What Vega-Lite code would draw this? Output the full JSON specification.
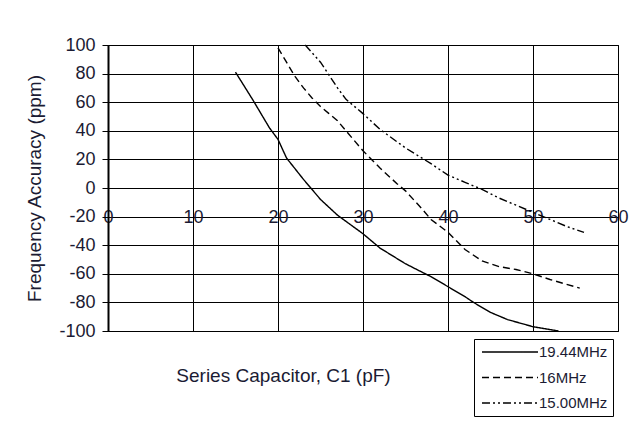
{
  "$schema": "https://vega.github.io/schema/vega-lite/v6.json",
  "width": 510,
  "height": 286,
  "autosize": {"type": "none"},
  "padding": {"left": 108, "top": 45, "right": 21, "bottom": 91},
  "background": "white",
  "config": {
    "font": "Liberation Sans",
    "view": {"stroke": "black", "strokeWidth": 1}
  },
  "data": {
    "values": [
      {"series": "19.44MHz", "c1": 15, "ppm": 81},
      {"series": "19.44MHz", "c1": 17, "ppm": 62},
      {"series": "19.44MHz", "c1": 19, "ppm": 42},
      {"series": "19.44MHz", "c1": 20, "ppm": 34},
      {"series": "19.44MHz", "c1": 21, "ppm": 21},
      {"series": "19.44MHz", "c1": 23, "ppm": 6},
      {"series": "19.44MHz", "c1": 25, "ppm": -8},
      {"series": "19.44MHz", "c1": 27, "ppm": -19},
      {"series": "19.44MHz", "c1": 30, "ppm": -32},
      {"series": "19.44MHz", "c1": 32, "ppm": -42},
      {"series": "19.44MHz", "c1": 35, "ppm": -53},
      {"series": "19.44MHz", "c1": 38, "ppm": -62},
      {"series": "19.44MHz", "c1": 40, "ppm": -69},
      {"series": "19.44MHz", "c1": 42, "ppm": -76},
      {"series": "19.44MHz", "c1": 43, "ppm": -80},
      {"series": "19.44MHz", "c1": 45, "ppm": -87},
      {"series": "19.44MHz", "c1": 47, "ppm": -92},
      {"series": "19.44MHz", "c1": 50, "ppm": -97},
      {"series": "19.44MHz", "c1": 53, "ppm": -100},
      {"series": "16MHz", "c1": 20, "ppm": 98},
      {"series": "16MHz", "c1": 21, "ppm": 88},
      {"series": "16MHz", "c1": 22, "ppm": 78},
      {"series": "16MHz", "c1": 23, "ppm": 70},
      {"series": "16MHz", "c1": 24, "ppm": 63},
      {"series": "16MHz", "c1": 25, "ppm": 57},
      {"series": "16MHz", "c1": 26, "ppm": 52},
      {"series": "16MHz", "c1": 27, "ppm": 47},
      {"series": "16MHz", "c1": 28, "ppm": 40},
      {"series": "16MHz", "c1": 30, "ppm": 26},
      {"series": "16MHz", "c1": 32, "ppm": 14},
      {"series": "16MHz", "c1": 34, "ppm": 3},
      {"series": "16MHz", "c1": 35, "ppm": -2},
      {"series": "16MHz", "c1": 37, "ppm": -15},
      {"series": "16MHz", "c1": 38, "ppm": -22},
      {"series": "16MHz", "c1": 40, "ppm": -31},
      {"series": "16MHz", "c1": 42, "ppm": -43},
      {"series": "16MHz", "c1": 44, "ppm": -51},
      {"series": "16MHz", "c1": 46, "ppm": -55},
      {"series": "16MHz", "c1": 48, "ppm": -57},
      {"series": "16MHz", "c1": 50, "ppm": -60},
      {"series": "16MHz", "c1": 52, "ppm": -64},
      {"series": "16MHz", "c1": 55.5, "ppm": -70},
      {"series": "15.00MHz", "c1": 23.2, "ppm": 100},
      {"series": "15.00MHz", "c1": 25, "ppm": 88},
      {"series": "15.00MHz", "c1": 27, "ppm": 70},
      {"series": "15.00MHz", "c1": 28, "ppm": 62},
      {"series": "15.00MHz", "c1": 30, "ppm": 52},
      {"series": "15.00MHz", "c1": 32, "ppm": 41},
      {"series": "15.00MHz", "c1": 35, "ppm": 28},
      {"series": "15.00MHz", "c1": 38, "ppm": 17},
      {"series": "15.00MHz", "c1": 40, "ppm": 9},
      {"series": "15.00MHz", "c1": 42, "ppm": 4},
      {"series": "15.00MHz", "c1": 44, "ppm": -1},
      {"series": "15.00MHz", "c1": 46, "ppm": -7},
      {"series": "15.00MHz", "c1": 48, "ppm": -12},
      {"series": "15.00MHz", "c1": 50, "ppm": -17},
      {"series": "15.00MHz", "c1": 52, "ppm": -22},
      {"series": "15.00MHz", "c1": 54, "ppm": -27},
      {"series": "15.00MHz", "c1": 56, "ppm": -31}
    ]
  },
  "mark": {"type": "line", "color": "black", "strokeWidth": 1.4},
  "encoding": {
    "x": {
      "field": "c1",
      "type": "quantitative",
      "scale": {"domain": [0, 60], "nice": false, "zero": false},
      "axis": {
        "title": "Series Capacitor, C1 (pF)",
        "values": [0, 10, 20, 30, 40, 50, 60],
        "offset": -143,
        "grid": true,
        "gridColor": "black",
        "gridOpacity": 1,
        "gridWidth": 1,
        "domainColor": "black",
        "domainWidth": 1,
        "tickColor": "black",
        "tickSize": 5,
        "labelPadding": 15,
        "labelFontSize": 18,
        "labelColor": "#1b1b33",
        "labelFlush": false,
        "labelOverlap": false,
        "titleFontSize": 19,
        "titleFontWeight": "normal",
        "titleColor": "#1b1b33",
        "titleX": 175,
        "titleY": 187,
        "titleAlign": "center",
        "titleBaseline": "middle"
      }
    },
    "y": {
      "field": "ppm",
      "type": "quantitative",
      "scale": {"domain": [-100, 100], "nice": false},
      "axis": {
        "title": "Frequency Accuracy (ppm)",
        "values": [-100, -80, -60, -40, -20, 0, 20, 40, 60, 80, 100],
        "labelExpr": "datum.value < 0 ? '-' + abs(datum.value) : '' + datum.value",
        "grid": true,
        "gridColor": "black",
        "gridOpacity": 1,
        "gridWidth": 1,
        "domainColor": "black",
        "domainWidth": 2,
        "tickColor": "black",
        "tickSize": 6,
        "labelPadding": 7,
        "labelFontSize": 18,
        "labelColor": "#1b1b33",
        "labelFlush": false,
        "labelOverlap": false,
        "titleFontSize": 19,
        "titleFontWeight": "normal",
        "titleColor": "#1b1b33",
        "titlePadding": 14
      }
    },
    "strokeDash": {
      "field": "series",
      "type": "nominal",
      "scale": {
        "domain": ["19.44MHz", "16MHz", "15.00MHz"],
        "range": [[1, 0], [7, 4], [8, 3, 2, 3, 2, 3]]
      },
      "legend": {
        "title": null,
        "orient": "none",
        "legendX": 366,
        "legendY": 294,
        "symbolType": "M-4,0H4",
        "symbolSize": 196,
        "symbolOffset": 23,
        "symbolStrokeWidth": 1.4,
        "symbolStrokeColor": "black",
        "labelFontSize": 15,
        "labelColor": "#1b1b33",
        "labelOffset": 21,
        "strokeColor": "black",
        "padding": 5,
        "rowPadding": 9.5
      }
    }
  }
}
